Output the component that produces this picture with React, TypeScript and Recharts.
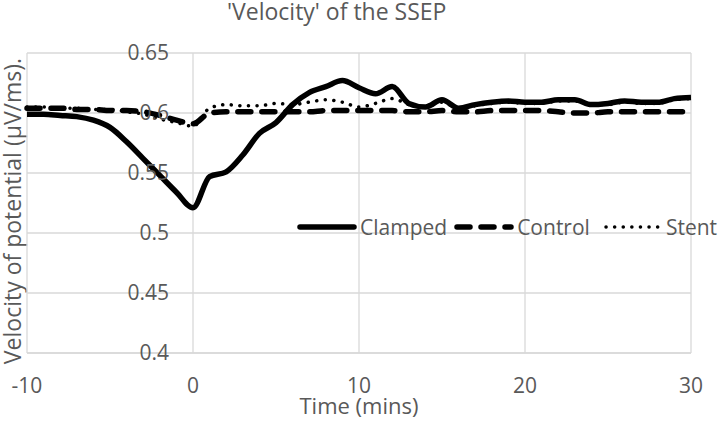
import React from "react"
import { CartesianGrid, Legend, Line, LineChart, XAxis, YAxis } from "recharts"

const times = [-10, -9, -8, -7, -6, -5, -4, -3, -2, -1, 0, 1, 2, 3, 4, 5, 6, 7, 8, 9, 10, 11, 12, 13, 14, 15, 16, 17, 18, 19, 20, 21, 22, 23, 24, 25, 26, 27, 28, 29, 30]

const clamped = [0.599, 0.599, 0.598, 0.597, 0.594, 0.588, 0.576, 0.562, 0.548, 0.534, 0.521, 0.547, 0.551, 0.565, 0.583, 0.592, 0.607, 0.617, 0.622, 0.627, 0.621, 0.616, 0.622, 0.608, 0.605, 0.611, 0.604, 0.607, 0.609, 0.61, 0.609, 0.609, 0.611, 0.611, 0.607, 0.608, 0.61, 0.609, 0.609, 0.612, 0.613]

const control = [0.604, 0.604, 0.604, 0.603, 0.603, 0.602, 0.602, 0.601, 0.598, 0.594, 0.591, 0.6, 0.601, 0.601, 0.601, 0.601, 0.601, 0.601, 0.602, 0.602, 0.602, 0.602, 0.602, 0.601, 0.601, 0.602, 0.601, 0.601, 0.602, 0.602, 0.602, 0.602, 0.601, 0.6, 0.6, 0.601, 0.601, 0.601, 0.601, 0.601, 0.601]

const stent = [0.605, 0.605, 0.604, 0.604, 0.603, 0.603, 0.601, 0.599, 0.595, 0.592, 0.589, 0.604, 0.607, 0.606, 0.606, 0.608, 0.607, 0.609, 0.611, 0.609, 0.605, 0.608, 0.612, 0.607, 0.605, 0.609, 0.604, 0.606, 0.608, 0.609, 0.608, 0.608, 0.61, 0.61, 0.607, 0.607, 0.609, 0.608, 0.608, 0.611, 0.612]

const xTicks = [-10, 0, 10, 20, 30]
const yTicks = [0.4, 0.45, 0.5, 0.55, 0.6, 0.65]

const data = times.map((t, i) => ({ t, clamped: clamped[i], control: control[i], stent: stent[i] }))

const FONT = "'Open Sans', sans-serif"
const GRAY = "#595959"
const GRID = "#d9d9d9"

const legendItems = [
  { name: "Clamped", width: 5.5, dash: undefined as string | undefined },
  { name: "Control", width: 5.5, dash: "13 11" },
  { name: "Stent", width: 3.5, dash: "0.1 8.5" },
]

function ChartLegend() {
  return (
    <div style={{ display: "flex", alignItems: "center", fontFamily: FONT, fontSize: 21, color: GRAY, whiteSpace: "nowrap" }}>
      {legendItems.map((it, i) => (
        <div key={it.name} style={{ display: "flex", alignItems: "center", marginRight: i === 1 ? 13 : 7 }}>
          <svg width={60} height={12} style={{ marginRight: 3 }}>
            <line x1={3} y1={6} x2={57} y2={6} stroke="#000" strokeWidth={it.width} strokeLinecap="round" strokeDasharray={it.dash} />
          </svg>
          <span>{it.name}</span>
        </div>
      ))}
    </div>
  )
}

export default function App() {
  return (
    <div style={{ position: "absolute", left: 0, top: 0, width: 721, height: 421, background: "#fff", fontFamily: FONT }}>
      <div style={{ position: "absolute", left: 227, top: 0, fontSize: 23, lineHeight: 1, color: GRAY, whiteSpace: "nowrap" }}>
        'Velocity' of the SSEP
      </div>
      <div
        style={{
          position: "absolute",
          left: 12,
          top: 211,
          transform: "translate(-50%, -50%) rotate(-90deg)",
          fontSize: 23,
          lineHeight: 1,
          color: GRAY,
          whiteSpace: "nowrap",
        }}
      >
        Velocity of potential (µV/ms).
      </div>
      <LineChart width={721} height={421} data={data} margin={{ top: 53, right: 30, left: 0, bottom: 0 }}>
        <CartesianGrid stroke={GRID} strokeWidth={1.3} />
        <XAxis
          dataKey="t"
          type="number"
          domain={[-10, 30]}
          ticks={xTicks}
          height={68}
          tickLine={false}
          tickSize={0}
          tickMargin={25}
          axisLine={{ stroke: GRID, strokeWidth: 1.3 }}
          tick={{ fill: GRAY, fontSize: 21, fontFamily: FONT }}
          label={{ value: "Time (mins)", position: "insideBottom", offset: 7, fill: GRAY, fontSize: 22, fontFamily: FONT }}
        />
        <YAxis
          type="number"
          domain={[0.4, 0.65]}
          ticks={yTicks}
          width={27}
          axisLine={false}
          tickLine={false}
          tickSize={0}
          tickMargin={0}
          tickFormatter={(v: number) => String(v)}
          tick={{ fill: GRAY, fontSize: 21, fontFamily: FONT, dx: 142 }}
        />
        <Legend
          layout="horizontal"
          verticalAlign="middle"
          align="center"
          content={() => <ChartLegend />}
          wrapperStyle={{ position: "absolute", left: 297, top: 213, width: "auto" }}
        />
        <Line type="monotone" dataKey="clamped" name="Clamped" stroke="#000" strokeWidth={5.5} dot={false} activeDot={false} isAnimationActive={false} />
        <Line type="monotone" dataKey="control" name="Control" stroke="#000" strokeWidth={5.5} strokeDasharray="13 11" strokeLinecap="round" dot={false} activeDot={false} isAnimationActive={false} />
        <Line type="monotone" dataKey="stent" name="Stent" stroke="#000" strokeWidth={3.5} strokeDasharray="0.1 8.5" strokeLinecap="round" dot={false} activeDot={false} isAnimationActive={false} />
      </LineChart>
    </div>
  )
}
